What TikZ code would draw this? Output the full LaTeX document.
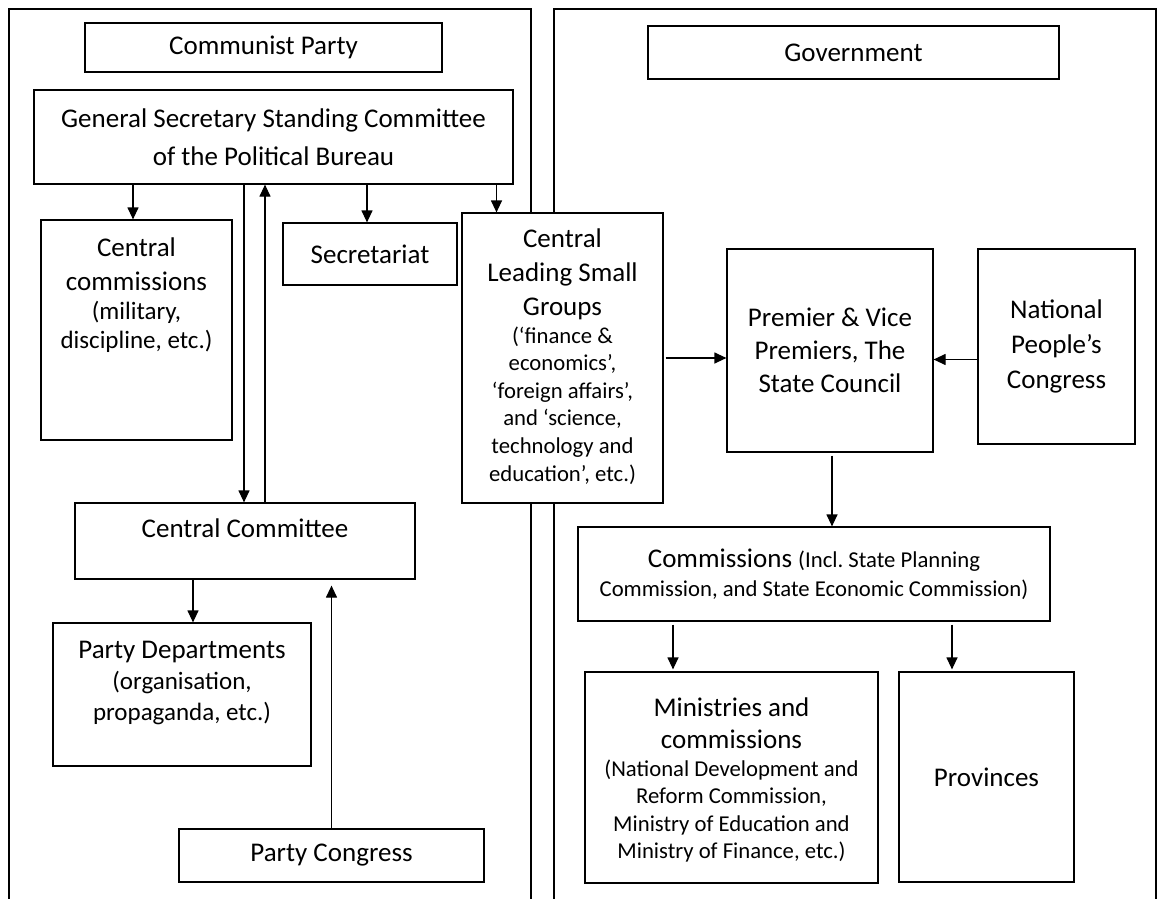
\documentclass[tikz,border=0pt]{standalone}
\usepackage{fontspec}
\setmainfont{Carlito}
\frenchspacing
\usetikzlibrary{arrows.meta,positioning}
\newcommand\bigtxt{\fontsize{27}{34}\selectfont}
\newcommand\smalltxt{\fontsize{22.7}{27.6}\selectfont}
\newcommand\midtxt{\fontsize{25}{29}\selectfont}
\tikzset{
  box/.style={draw, line width=1.2pt, fill=white, inner sep=0pt, align=flush center, font=\bigtxt},
  txt/.style={inner sep=0pt, align=flush center, anchor=north, font=\bigtxt},
  arr/.style={line width=1.2pt, -{Triangle[width=11pt,length=12pt]}},
  frame/.style={line width=1.3pt}
}
\begin{document}
\begin{tikzpicture}[x=1pt,y=-1pt]
\useasboundingbox (0,0) rectangle (1157,899);

% the two panels
\draw[frame] (9,899) -- (9,9) -- (531,9) -- (531,899);
\draw[frame] (554,899) -- (554,9) -- (1156,9) -- (1156,899);

% party side
\node[box, minimum width=357pt, minimum height=49pt] (party) at (263.5,47.5) {Communist Party};
\node[box, minimum width=479pt, minimum height=94pt, text width=470pt,
  font=\fontsize{27}{38}\selectfont] (gs) at (273.5,137)
  {General Secretary Standing Committee\\ of the Political Bureau};
\node[box, minimum width=191pt, minimum height=220pt] (ccom) at (136.5,330) {};
\node[txt, text width=185pt] (ccomtxt) at (136.5,237.5)
  {Central\\ commissions\par{\midtxt (military,\\ discipline, etc.)\par}};
\node[box, minimum width=174pt, minimum height=62pt] (sec) at (370,254) {Secretariat};
\node[box, minimum width=201pt, minimum height=290pt] (clsg) at (562.5,358) {};
\node[txt, text width=195pt] (clsgtxt) at (562.5,228.5)
  {Central\\ Leading Small\\ Groups\par{\smalltxt (‘finance \&\\ economics’,\\ ‘foreign affairs’,\\
  and ‘science,\\ technology and\\ education’, etc.)\par}};
\node[box, minimum width=340pt, minimum height=76pt] (cc) at (245,541) {};
\node[txt] (cctxt) at (245,518.5) {Central Committee};
\node[box, minimum width=258pt, minimum height=143pt] (pd) at (182,694.5) {};
\node[txt, text width=250pt] (pdtxt) at (182,640.5)
  {Party Departments\par{\fontsize{25}{31}\selectfont (organisation,\\ propaganda, etc.)\par}};
\node[box, minimum width=305pt, minimum height=53pt] (pcong) at (331.5,855.5) {Party Congress};

% government side
\node[box, minimum width=411pt, minimum height=53pt] (gov) at (853.5,52.5) {Government};
\node[box, minimum width=206pt, minimum height=203pt, text width=200pt,
  font=\fontsize{27}{33}\selectfont] (prem) at (830,350.5)
  {Premier \& Vice\\ Premiers, The\\ State Council};
\node[box, minimum width=157pt, minimum height=195pt, text width=150pt,
  font=\fontsize{27}{35}\selectfont] (npc) at (1056.5,346.5)
  {National\\ People’s\\ Congress};
\node[box, minimum width=472pt, minimum height=94pt, text width=465pt] (comm) at (814,574)
  {Commissions {\fontsize{22.7}{29}\selectfont (Incl. State Planning\\ Commission, and State Economic Commission)\par}};
\node[box, minimum width=293pt, minimum height=211pt] (min) at (731.5,777.5) {};
\node[txt, text width=285pt, font=\fontsize{27}{32}\selectfont] (mintxt) at (731.5,697.5)
  {Ministries and\\ commissions\par{\smalltxt (National Development and\\ Reform Commission,\\
  Ministry of Education and\\ Ministry of Finance, etc.)\par}};
\node[box, minimum width=175pt, minimum height=210pt] (prov) at (986.5,777) {Provinces};

% connectors
\draw[arr] ([xshift=-3.5pt]ccom.north |- gs.south) -- ([xshift=-3.5pt]ccom.north);
\draw[arr] ([xshift=-1pt]cc.north |- gs.south) -- ([xshift=-1pt]cc.north);
\draw[arr] ([xshift=20pt]cc.north) -- ([xshift=20pt]cc.north |- gs.south);
\draw[arr] ([xshift=-3pt]sec.north |- gs.south) -- ([xshift=-3pt]sec.north);
\draw[arr] ([xshift=-66pt]clsg.north |- gs.south) -- ([xshift=-66pt]clsg.north);
\draw[arr] ([xshift=2pt]clsg.east) -- (clsg.east -| prem.west);
\draw[arr] ([yshift=-13pt]npc.west) -- ([yshift=-13pt]npc.west -| prem.east);
\draw[arr, shorten <=3pt] ([xshift=2pt]prem.south) -- ([xshift=2pt]prem.south |- comm.north);
\draw[arr] ([xshift=-52pt]cc.south) -- ([xshift=-52pt]cc.south |- pd.north);
\draw[arr, shorten >=6pt] (pcong.north) -- (pcong.north |- cc.south);
\draw[arr, shorten <=3pt, shorten >=2pt] ([xshift=-58.5pt]min.north |- comm.south) -- ([xshift=-58.5pt]min.north);
\draw[arr, shorten <=3pt, shorten >=2pt] ([xshift=-34.5pt]prov.north |- comm.south) -- ([xshift=-34.5pt]prov.north);
\end{tikzpicture}
\end{document}
